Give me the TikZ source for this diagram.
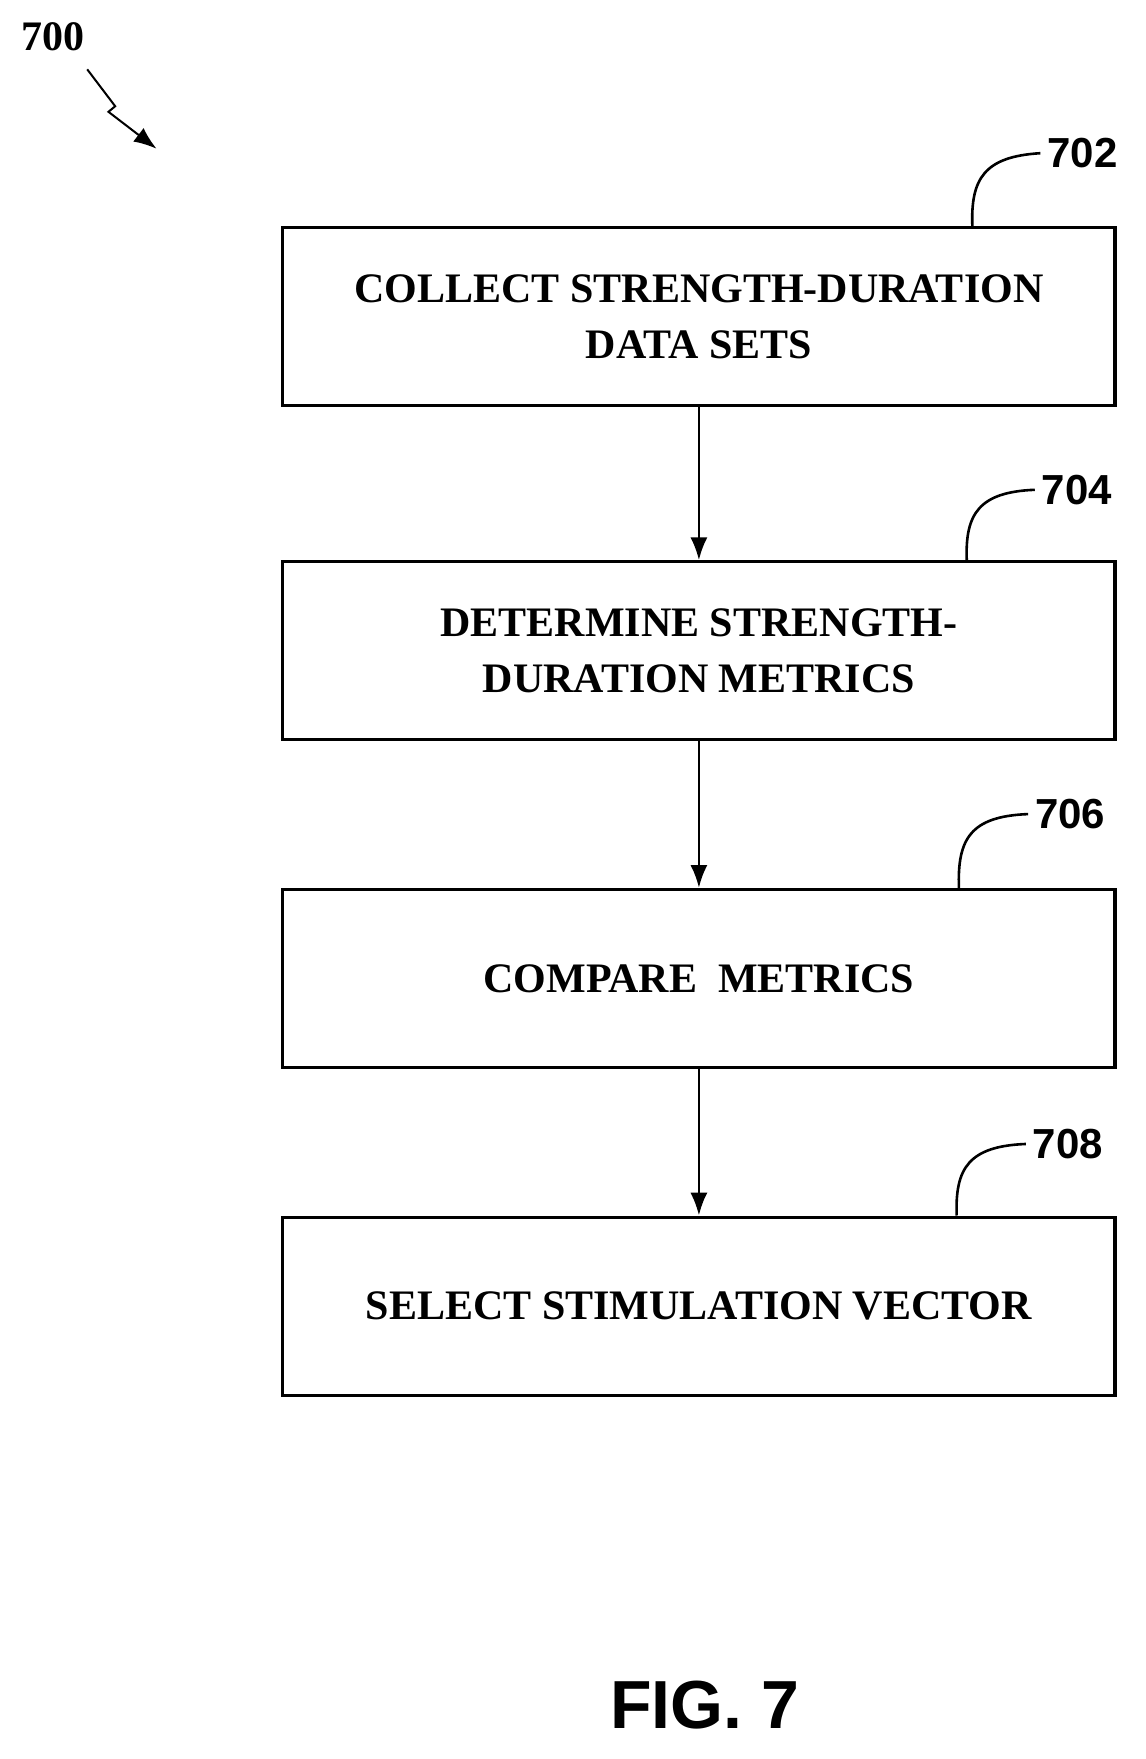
\documentclass[tikz,border=0pt]{standalone}
\usepackage{fontspec}
\setmainfont{Liberation Serif}
\newfontfamily\arialfont{Liberation Sans}
\usetikzlibrary{arrows.meta,positioning}
\tikzset{%
	>={Latex[width=3mm,length=4mm]},
	% Specifications for style of nodes:
	stage/.style = {rectangle, draw=black, line width=1.6pt, minimum width=416pt,
	minimum height=89pt, align=center, font=\bfseries\fontsize{21}{28}\selectfont},
	flow/.style = {->, line width=1.3pt},
	ref/.style = {font=\arialfont\bfseries\fontsize{21}{24}\selectfont},
	lead/.style = {line width=1.3pt}
}
\begin{document}
\begin{tikzpicture}[x=0.559pt,y=-0.559pt]
		\useasboundingbox (0,0) rectangle (1024,1573);
		% Specification of nodes (position, etc.)
		\node (s702) [stage] at (625,283) {COLLECT STRENGTH-DURATION\\DATA SETS};
		\node (s704) [stage] at (625,582) {DETERMINE STRENGTH-\\DURATION METRICS};
		\node (s706) [stage] at (625,875) {COMPARE~~METRICS};
		\node (s708) [stage] at (625,1168) {SELECT STIMULATION VECTOR};
		\draw[flow] (s702) -- (s704);
		\draw[flow] (s704) -- (s706);
		\draw[flow] (s706) -- (s708);
		% reference numerals
		\node (n702) [ref] at (968,137) {702};
		\node (n704) [ref] at (963,438) {704};
		\node (n706) [ref] at (957,728) {706};
		\node (n708) [ref] at (955,1023) {708};
		\draw[lead] (s702.north east) ++(-129,0) coordinate (c702) .. controls (868,160) and (880,140) .. (n702.west);
		\draw[lead] (s704.north east) ++(-134,0) coordinate (c704) .. controls (863,460) and (875,440) .. (n704.west);
		\draw[lead] (s706.north east) ++(-141,0) coordinate (c706) .. controls (856,750) and (868,730) .. (n706.west);
		\draw[lead] (s708.north east) ++(-143,0) coordinate (c708) .. controls (854,1045) and (866,1025) .. (n708.west);
		\node (n700) [font=\bfseries\fontsize{21}{24}\selectfont] at (47,33) {700};
		\coordinate (z1) at (78,62);
		\coordinate (z2) at (140,133);
		\draw[->, line width=1pt] (z1) -- (103,95) -- (97,100) -- (z2);
		\node (fig) [font=\arialfont\bfseries\fontsize{34}{40}\selectfont] at (630,1525) {FIG. 7};
\end{tikzpicture}
\end{document}
